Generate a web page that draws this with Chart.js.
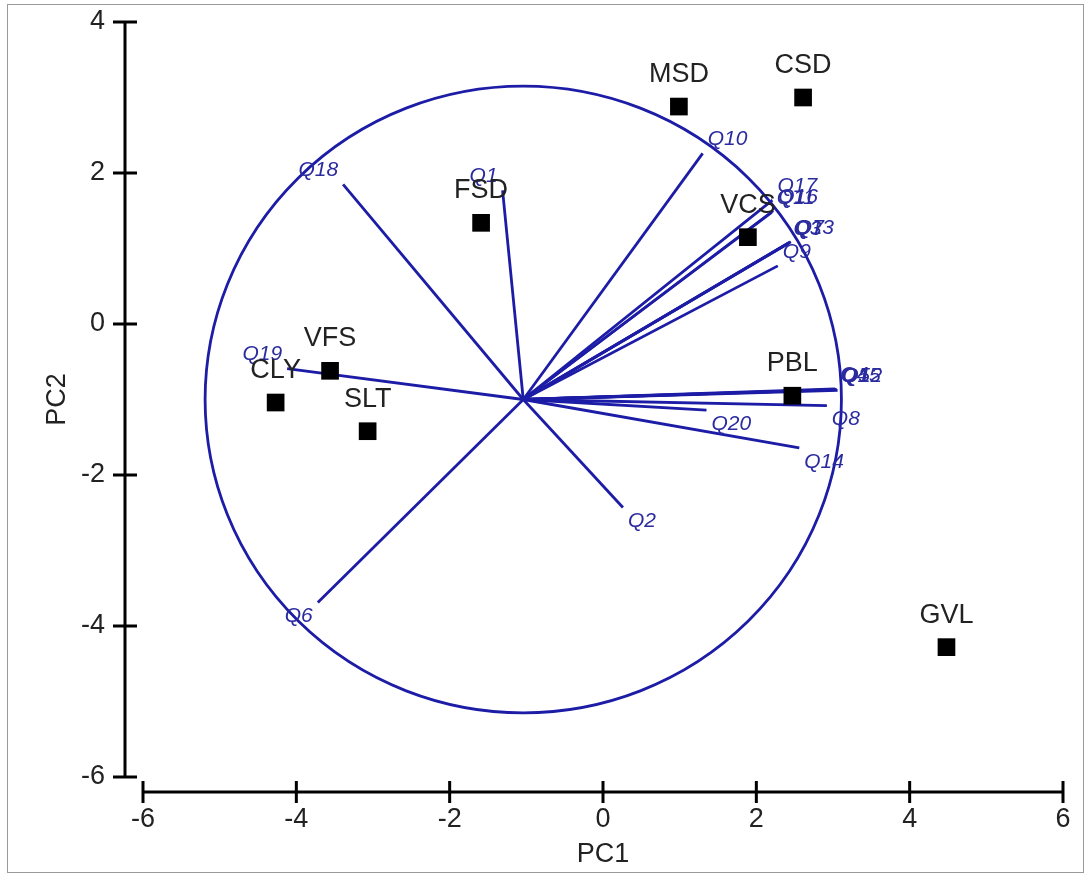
<!DOCTYPE html>
<html>
<head>
<meta charset="utf-8">
<title>PCA biplot</title>
<script src="https://cdn.jsdelivr.net/npm/chart.js@4/dist/chart.umd.min.js"></script>
<style>
    html, body { margin: 0; padding: 0; background: #fff; overflow: hidden; }
    #wrap { position: relative; width: 1086px; height: 877px; }
</style>
</head>
<body>
<div id="wrap"><canvas id="biplot"></canvas></div>
<script>
// sample scores (black squares)
const sampleNames = ['MSD', 'CSD', 'FSD', 'VCS', 'PBL', 'VFS', 'CLY', 'SLT', 'GVL'];
const samplePC1 = [0.99, 2.61, -1.59, 1.89, 2.47, -3.56, -4.27, -3.07, 4.48];
const samplePC2 = [2.88, 3.00, 1.34, 1.15, -0.95, -0.62, -1.04, -1.42, -4.28];

// variable loadings (arrow tips), all arrows start at loadingOrigin
const loadingNames = ['Q1', 'Q2', 'Q3', 'Q4', 'Q5', 'Q6', 'Q7', 'Q8', 'Q9', 'Q10',
    'Q11', 'Q12', 'Q13', 'Q14', 'Q15', 'Q16', 'Q17', 'Q18', 'Q19', 'Q20'];
const loadingPC1 = [-1.31, 0.26, 2.42, 3.03, 3.05, -3.72, 2.45, 2.92, 2.28, 1.30,
    2.20, 3.06, 2.43, 2.56, 3.04, 2.22, 2.21, -3.39, -4.12, 1.35];
const loadingPC2 = [1.77, -2.43, 1.07, -0.86, -0.87, -3.69, 1.09, -1.08, 0.77, 2.26,
    1.48, -0.88, 1.08, -1.64, -0.87, 1.50, 1.64, 1.85, -0.59, -1.14];
const loadingOrigin = [-1.04, -1.0];
const circleRadius = 4.15;

const xTicks = [-6, -4, -2, 0, 2, 4, 6];
const yTicks = [-6, -4, -2, 0, 2, 4];

const blue = '#1c1ca6';
const fontFamily = "'Liberation Sans', Arial, sans-serif";

const biplotDecor = {
    id: 'biplotDecor',
    beforeDatasetsDraw: function (chart) {
        const ctx = chart.ctx;
        const xs = chart.scales.x;
        const ys = chart.scales.y;
        const cx = xs.getPixelForValue(loadingOrigin[0]);
        const cy = ys.getPixelForValue(loadingOrigin[1]);
        const rx = xs.getPixelForValue(loadingOrigin[0] + circleRadius) - cx;
        const ry = cy - ys.getPixelForValue(loadingOrigin[1] + circleRadius);
        ctx.save();
        ctx.strokeStyle = blue;
        ctx.lineWidth = 2.8;
        ctx.beginPath();
        ctx.ellipse(cx, cy, rx, ry, 0, 0, Math.PI * 2);
        ctx.stroke();
        ctx.restore();
    },
    afterDatasetsDraw: function (chart) {
        const ctx = chart.ctx;
        const xs = chart.scales.x;
        const ys = chart.scales.y;
        ctx.save();
        // loading labels
        ctx.font = 'italic 21px ' + fontFamily;
        ctx.fillStyle = '#2b2ba0';
        ctx.textBaseline = 'middle';
        for (let i = 0; i < loadingNames.length; i++) {
            const px = xs.getPixelForValue(loadingPC1[i]);
            const py = ys.getPixelForValue(loadingPC2[i]);
            const right = loadingPC1[i] >= loadingOrigin[0];
            const up = loadingPC2[i] >= loadingOrigin[1];
            ctx.textAlign = right ? 'left' : 'right';
            ctx.fillText(loadingNames[i], px + (right ? 5 : -5), py + (up ? -14 : 14));
        }
        // sample labels
        ctx.font = '27px ' + fontFamily;
        ctx.fillStyle = '#222';
        ctx.textAlign = 'center';
        for (let i = 0; i < sampleNames.length; i++) {
            const px = xs.getPixelForValue(samplePC1[i]);
            const py = ys.getPixelForValue(samplePC2[i]);
            ctx.fillText(sampleNames[i], px, py - 32);
        }
        ctx.restore();
    },
    afterDraw: function (chart) {
        const ctx = chart.ctx;
        const xs = chart.scales.x;
        const ys = chart.scales.y;
        const area = chart.chartArea;
        const axisX = area.left - 18;
        const axisY = area.bottom + 15;
        ctx.save();
        ctx.strokeStyle = '#000';
        ctx.lineWidth = 3;
        ctx.beginPath();
        ctx.moveTo(axisX, ys.getPixelForValue(yTicks[yTicks.length - 1]));
        ctx.lineTo(axisX, ys.getPixelForValue(yTicks[0]));
        yTicks.forEach(v => {
            const p = ys.getPixelForValue(v);
            ctx.moveTo(axisX - 12, p);
            ctx.lineTo(axisX + 12, p);
        });
        ctx.moveTo(xs.getPixelForValue(xTicks[0]), axisY);
        ctx.lineTo(xs.getPixelForValue(xTicks[xTicks.length - 1]), axisY);
        xTicks.forEach(v => {
            const p = xs.getPixelForValue(v);
            ctx.moveTo(p, axisY - 11);
            ctx.lineTo(p, axisY + 11);
        });
        ctx.stroke();
        // outer frame
        ctx.strokeStyle = '#9a9a9a';
        ctx.lineWidth = 1;
        ctx.strokeRect(7.5, 4.5, 1076, 868);
        ctx.restore();
    }
};

const samplePoints = samplePC1.map((v, i) => ({ x: v, y: samplePC2[i] }));
const origin = { x: loadingOrigin[0], y: loadingOrigin[1] };

const datasets = [{
    label: 'samples',
    data: samplePoints,
    pointStyle: 'rect',
    pointRadius: 12.5,
    pointHoverRadius: 12.5,
    backgroundColor: '#000',
    borderColor: '#000',
    borderWidth: 0,
    showLine: false
}];
loadingNames.forEach((name, i) => {
    datasets.push({
        label: name,
        data: [origin, { x: loadingPC1[i], y: loadingPC2[i] }],
        showLine: true,
        borderColor: blue,
        borderWidth: 2.8,
        pointRadius: 0,
        pointHoverRadius: 0
    });
});

new Chart(document.getElementById('biplot'), {
    type: 'scatter',
    data: { datasets: datasets },
    options: {
        responsive: true,
        maintainAspectRatio: false,
        animation: false,
        events: [],
        layout: { padding: { left: 0, right: 23, top: 22, bottom: 0 } },
        plugins: {
            legend: { display: false },
            tooltip: { enabled: false }
        },
        scales: {
            x: {
                type: 'linear',
                min: -6,
                max: 6,
                afterBuildTicks: s => { s.ticks = xTicks.map(v => ({ value: v })); },
                afterFit: s => { s.height = 100; s.paddingLeft = 0; s.paddingRight = 0; },
                grid: { display: false, drawTicks: false },
                border: { display: false },
                ticks: { padding: 26, color: '#222', font: { family: fontFamily, size: 27 }, maxRotation: 0 },
                title: { display: true, text: 'PC1', color: '#222', padding: { top: 0, bottom: 6 }, font: { family: fontFamily, size: 27 } }
            },
            y: {
                type: 'linear',
                min: -6,
                max: 4,
                afterBuildTicks: s => { s.ticks = yTicks.map(v => ({ value: v })); },
                afterFit: s => { s.width = 143; s.paddingTop = 0; s.paddingBottom = 0; },
                grid: { display: false, drawTicks: false },
                border: { display: false },
                ticks: { padding: 38, color: '#222', font: { family: fontFamily, size: 27 } },
                title: { display: true, text: 'PC2', color: '#222', padding: { top: 41, bottom: 0 }, font: { family: fontFamily, size: 27 } }
            }
        }
    },
    plugins: [biplotDecor]
});
</script>
</body>
</html>
